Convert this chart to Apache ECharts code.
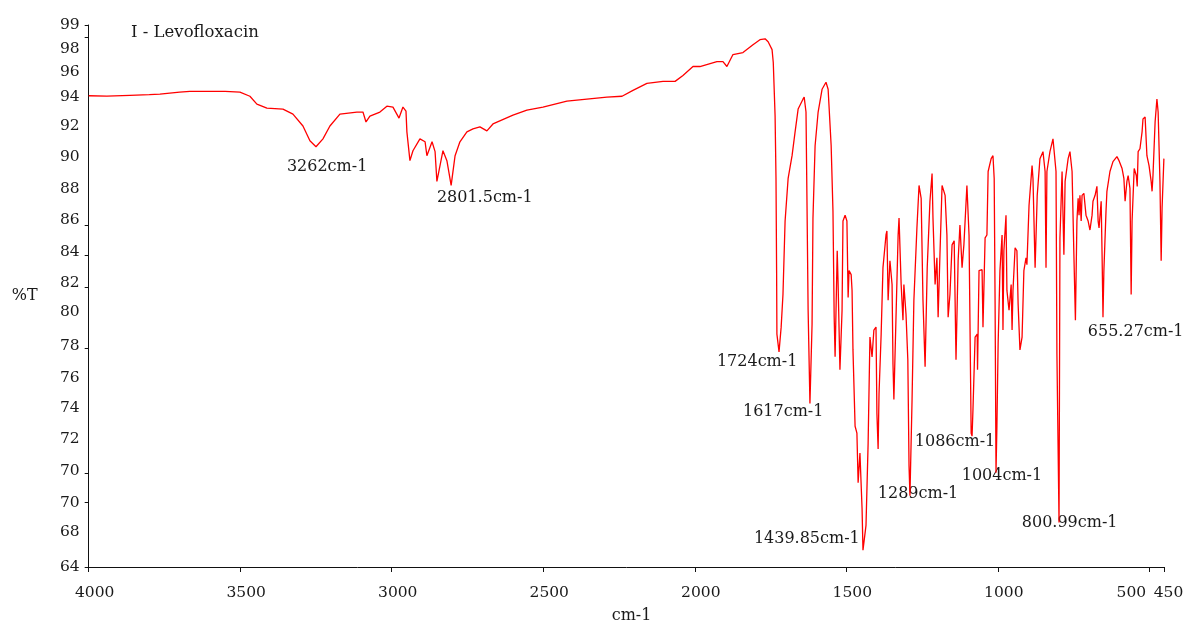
<!DOCTYPE html>
<html>
<head>
<meta charset="utf-8">
<title>I - Levofloxacin</title>
<script src="https://cdn.jsdelivr.net/npm/echarts@6.0.0/dist/echarts.min.js"></script>
<style>
  html, body { margin: 0; padding: 0; background: #fff; }
  #chart { width: 1190px; height: 629px; }
</style>
</head>
<body>
<div id="chart"></div>
<script>
// IR spectrum, pairs of [wavenumber cm-1, %T]
var spectrum = [
  [4000, 94.43], [3940, 94.41], [3864, 94.46], [3800, 94.5], [3765, 94.53], [3700, 94.66], [3666, 94.72], [3550, 94.72], [3501, 94.66],
  [3468, 94.4], [3445, 93.89], [3412, 93.63], [3359, 93.57], [3326, 93.25], [3293, 92.48],
  [3270, 91.52], [3250, 91.14], [3227, 91.65], [3204, 92.48], [3171, 93.25], [3115, 93.38],
  [3095, 93.38], [3085, 92.74], [3072, 93.12], [3039, 93.38], [3016, 93.76], [2996, 93.7],
  [2976, 92.99], [2963, 93.7], [2953, 93.44], [2950, 92.1], [2940, 90.24], [2930, 90.88],
  [2907, 91.65], [2890, 91.46], [2884, 90.56], [2867, 91.46], [2857, 90.82], [2851, 88.9],
  [2831, 90.88], [2818, 90.24], [2804, 88.64], [2791, 90.56], [2775, 91.46], [2752, 92.1],
  [2732, 92.29], [2709, 92.42], [2686, 92.16], [2666, 92.61], [2600, 93.18], [2554, 93.5],
  [2501, 93.7], [2422, 94.08], [2356, 94.21], [2290, 94.34], [2240, 94.4], [2204, 94.78],
  [2158, 95.23], [2105, 95.36], [2065, 95.36], [2039, 95.74], [2006, 96.32], [1983, 96.32],
  [1927, 96.64], [1907, 96.64], [1894, 96.32], [1874, 97.09], [1841, 97.22], [1808, 97.73],
  [1785, 98.05], [1768, 98.11], [1758, 97.92], [1745, 97.41], [1741, 96.58], [1735, 93.12],
  [1732, 89.09], [1730, 83.14], [1729, 79.04], [1722, 77.89], [1715, 79.49], [1709, 81.6],
  [1702, 86.34], [1692, 89.09], [1679, 90.56], [1669, 92.1], [1659, 93.57], [1643, 94.21],
  [1639, 94.34], [1633, 93.38], [1630, 88], [1626, 80.58], [1620, 74.56], [1613, 79.68],
  [1610, 86.53], [1603, 91.2], [1593, 93.38], [1580, 94.85], [1567, 95.3], [1560, 94.85],
  [1550, 91.2], [1544, 86.98], [1540, 80.13], [1537, 77.57], [1530, 84.42], [1527, 82.24],
  [1521, 76.74], [1514, 80.58], [1511, 86.34], [1504, 86.72], [1498, 86.34], [1494, 81.41],
  [1491, 83.14], [1484, 82.88], [1481, 81.86], [1478, 78.02], [1471, 73.09], [1465, 72.64],
  [1461, 69.44], [1455, 71.36], [1448, 67.78], [1445, 65.09], [1435, 66.69], [1428, 72],
  [1422, 78.85], [1415, 77.57], [1409, 79.3], [1402, 79.49], [1399, 73.92], [1395, 71.62],
  [1392, 75.2], [1385, 79.04], [1379, 83.33], [1369, 85.44], [1366, 85.7], [1362, 81.22],
  [1356, 83.78], [1349, 82.24], [1346, 77.12], [1343, 74.82], [1336, 80.13], [1329, 85.44],
  [1326, 86.53], [1319, 82.24], [1313, 79.94], [1310, 82.24], [1303, 80.32], [1297, 77.38],
  [1293, 70.53], [1290, 68.61], [1283, 74.82], [1277, 81.22], [1267, 85.89], [1260, 88.64],
  [1253, 87.81], [1247, 81.22], [1240, 76.93], [1233, 83.33], [1224, 87.62], [1217, 89.41],
  [1214, 86.53], [1207, 82.24], [1201, 83.97], [1197, 80.13], [1191, 84.16], [1184, 88.64],
  [1174, 88], [1168, 85.44], [1164, 80.13], [1158, 81.6], [1151, 84.8], [1144, 85.06],
  [1138, 77.38], [1131, 83.78], [1125, 86.08], [1118, 83.33], [1112, 84.8], [1102, 88.64],
  [1095, 85.44], [1088, 72.64], [1085, 72.45], [1082, 74.18], [1075, 78.85], [1068, 79.04],
  [1067, 76.74], [1062, 83.14], [1052, 83.2], [1049, 79.49], [1042, 85.25], [1036, 85.44],
  [1032, 89.54], [1022, 90.37], [1016, 90.56], [1012, 89.09], [1009, 80.96], [1006, 70.08],
  [1003, 73.09], [999, 78.4], [993, 83.14], [986, 85.44], [983, 79.3], [980, 84.42],
  [973, 86.72], [970, 81.86], [963, 80.58], [956, 82.24], [953, 79.3], [950, 81.86],
  [943, 84.61], [937, 84.42], [933, 80.96], [927, 78.02], [920, 78.85], [914, 83.14],
  [907, 83.97], [904, 83.52], [897, 87.36], [887, 89.92], [884, 89.09], [877, 83.33],
  [870, 88], [861, 90.37], [851, 90.82], [844, 89.54], [841, 83.33], [838, 89.54],
  [828, 90.82], [818, 91.65], [808, 89.54], [805, 77.76], [798, 66.88], [795, 85.25],
  [788, 89.54], [782, 84.16], [778, 88.9], [768, 90.37], [762, 90.82], [755, 89.54],
  [749, 84.16], [744, 79.94], [739, 86.34], [735, 87.81], [732, 86.72], [729, 88],
  [725, 86.34], [722, 88], [716, 88.13], [709, 86.72], [702, 86.34], [696, 85.76],
  [689, 86.72], [686, 87.62], [679, 88], [673, 88.58], [669, 86.34], [666, 85.89],
  [659, 87.62], [656, 84.16], [653, 80.13], [650, 83.14], [643, 86.98], [640, 88.26],
  [630, 89.54], [620, 90.18], [607, 90.5], [600, 90.24], [590, 89.73], [584, 89.09],
  [580, 87.62], [574, 88.9], [570, 89.28], [564, 88.45], [560, 81.6], [557, 86.34],
  [550, 89.73], [543, 89.28], [540, 88.58], [537, 90.82], [531, 91.01], [524, 92.1],
  [521, 92.93], [514, 93.06], [508, 90.56], [501, 89.92], [494, 88.9], [491, 88.26],
  [488, 89.28], [481, 92.74], [475, 94.21], [471, 93.38], [465, 88.9], [461, 83.78],
  [458, 87.17], [452, 90.37]
];

var xTicks = [4000, 3500, 3000, 2500, 2000, 1500, 1000, 500, 450];
var xLabelsMain = [4000, 3500, 3000, 2500, 2000, 1500, 1000, 500];
var xLabelsEnd = [450];

// label positions (in %T) and the text printed there on the original axis
var yTickPos = [99, 97.47, 95.94, 94.34, 92.48, 90.5, 88.38, 86.4, 84.35, 82.37,
                80.45, 78.27, 76.22, 74.24, 72.26, 70.21, 68.16, 66.24, 64];
var yTickText = ['99', '98', '96', '94', '92', '90', '88', '86', '84', '82',
                 '80', '78', '76', '74', '72', '70', '70', '68', '64'];
var yTickMarks = [99, 98.18, 86.08, 84.1, 82.05, 78.14, 70.08, 68.16, 64];

// peak annotations: text anchor (left edge) in data units
var peakWn = [3346, 2851, 1927, 1841, 1805, 1396, 1274, 1119, 921, 703];
var peakT = [89.85, 87.87, 77.25, 74.05, 65.79, 68.74, 72.06, 69.89, 66.88, 79.17];
var peakText = ['3262cm-1', '2801.5cm-1', '1724cm-1', '1617cm-1', '1439.85cm-1',
                '1289cm-1', '1086cm-1', '1004cm-1', '800.99cm-1', '655.27cm-1'];

var FONT = 'DejaVu Serif';
var TXT = '#1a1a1a';

var chart = echarts.init(document.getElementById('chart'));

var peakData = peakWn.map(function (w, i) {
    return { value: [w, peakT[i]], name: peakText[i] };
});

var xLabelRich = {
    n: { fontFamily: FONT, fontSize: 15.5, color: TXT, padding: [0, 0, 0, 12] },
    l: { fontFamily: FONT, fontSize: 15.5, color: TXT, padding: [0, 36, 0, 0] },
    e: { fontFamily: FONT, fontSize: 15.5, color: TXT, padding: [0, 0, 0, 8] }
};

function baseXAxis() {
    return {
        type: 'value',
        inverse: true,
        min: 450,
        max: 4000,
        position: 'bottom',
        splitLine: { show: false }
    };
}

var xMain = baseXAxis();
xMain.name = 'cm-1';
xMain.nameLocation = 'middle';
xMain.nameGap = 41;
xMain.nameTextStyle = { fontFamily: FONT, fontSize: 16, color: TXT, padding: [0, 0, 0, 10] };
xMain.axisLine = { lineStyle: { color: '#111', width: 1 } };
xMain.axisTick = { customValues: xTicks, length: 5, lineStyle: { color: '#111' } };
xMain.axisLabel = {
    customValues: xLabelsMain,
    margin: 18,
    rich: xLabelRich,
    formatter: function (v) { return v === 500 ? '{l|' + v + '}' : '{n|' + v + '}'; }
};

var xEnd = baseXAxis();
xEnd.axisLine = { show: false };
xEnd.axisTick = { show: false };
xEnd.axisLabel = {
    customValues: xLabelsEnd,
    margin: 18,
    rich: xLabelRich,
    formatter: function (v) { return '{e|' + v + '}'; }
};

var option = {
    animation: false,
    title: {
        text: 'I - Levofloxacin',
        left: 131,
        top: 24,
        padding: 0,
        textStyle: { fontFamily: FONT, fontSize: 16.5, fontWeight: 'normal', color: TXT }
    },
    grid: { left: 88.7, right: 25.5, top: 25, bottom: 57 },
    xAxis: [xMain, xEnd],
    yAxis: {
        type: 'value',
        min: 64,
        max: 99,
        name: '%T',
        nameLocation: 'middle',
        nameRotate: 0,
        nameGap: 51,
        nameTextStyle: { fontFamily: FONT, fontSize: 16, color: TXT },
        axisLine: { show: true, lineStyle: { color: '#111', width: 1 } },
        axisTick: { show: true, customValues: yTickMarks, length: 4, lineStyle: { color: '#111' } },
        axisLabel: {
            customValues: yTickPos,
            showMinLabel: true,
            showMaxLabel: true,
            margin: 9,
            fontFamily: FONT,
            fontSize: 15.5,
            color: TXT,
            formatter: function (v) {
                for (var i = 0; i < yTickPos.length; i++) {
                    if (Math.abs(yTickPos[i] - v) < 0.001) return yTickText[i];
                }
                return '';
            }
        },
        splitLine: { show: false }
    },
    series: [
        {
            name: 'Levofloxacin',
            type: 'line',
            xAxisIndex: 0,
            data: spectrum,
            showSymbol: false,
            symbol: 'none',
            sampling: null,
            lineStyle: { color: '#ff0000', width: 1.3 },
            silent: true
        },
        {
            name: 'peaks',
            type: 'scatter',
            xAxisIndex: 0,
            data: peakData,
            symbolSize: 0,
            silent: true,
            itemStyle: { opacity: 1 },
            label: {
                show: true,
                position: 'right',
                distance: 0,
                formatter: '{b}',
                fontFamily: FONT,
                fontSize: 16,
                color: TXT
            }
        }
    ]
};

chart.setOption(option);
</script>
</body>
</html>
